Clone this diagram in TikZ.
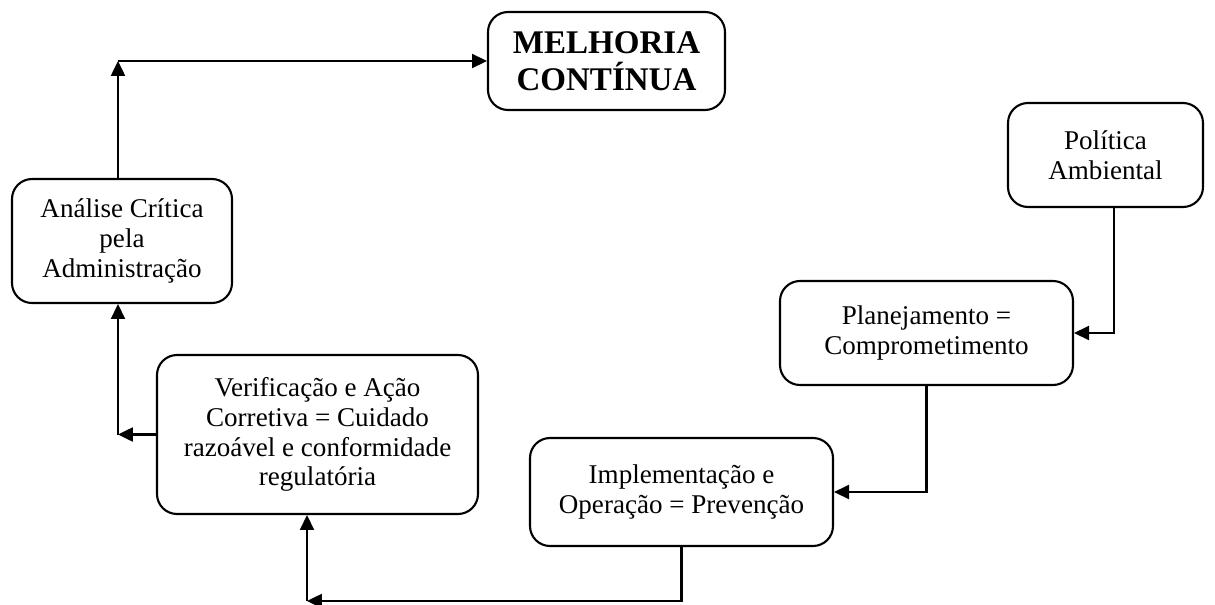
\documentclass[tikz,border=0pt]{standalone}
\usepackage{fontspec}
\setmainfont{Liberation Serif}
\usepackage{tikz}
\usetikzlibrary{arrows.meta,positioning,calc}

\begin{document}
\begin{tikzpicture}[
        font=\fontsize{15.4pt}{17pt}\selectfont,
        stage/.style={
            draw, rounded corners=0.4cm, line width=1.2pt,
            align=center, inner sep=0pt
        },
        flow/.style={-{Triangle[length=8.5pt,width=8pt]}, line width=1.2pt}
    ]
    \useasboundingbox (0,0) rectangle (24.3,12.08);

    % Stages
    \node[stage, minimum width=4.74cm, minimum height=1.96cm,
          font=\fontsize{18.8pt}{21pt}\selectfont\bfseries] (mel) at (12.13,10.86)
        {MELHORIA\\CONTÍNUA};
    \node[stage, minimum width=3.9cm, minimum height=2.08cm] (pol) at (22.11,8.98)
        {Política\\Ambiental};
    \node[stage, minimum width=5.86cm, minimum height=2.08cm] (pla) at (18.53,5.42)
        {Planejamento =\\Comprometimento};
    \node[stage, minimum width=6.06cm, minimum height=2.16cm] (imp) at (13.63,2.24)
        {Implementação e\\Operação = Prevenção};
    \node[stage, minimum width=6.42cm, minimum height=3.18cm] (ver) at (6.35,3.39)
        {Verificação e Ação\\Corretiva = Cuidado\\razoável e conformidade\\regulatória};
    \node[stage, minimum width=4.4cm, minimum height=2.48cm] (ana) at (2.44,7.26)
        {Análise Crítica\\pela\\Administração};

    % Corners
    \coordinate (low) at (6.14,0.06);
    \coordinate (vl) at ([xshift=-0.08cm]ver.west -| ana.south);
    \coordinate (al) at ([xshift=-0.08cm]ana.north |- mel.west);

    % Cycle
    \draw[flow] ([xshift=0.17cm]pol.south) |- (pla.east);
    \draw[flow] (pla.south) |- (imp.east);
    \draw[flow] (imp.south) |- (low);
    \draw[flow] (low) -- (low |- ver.south);
    \draw[flow] (ver.west) -- (vl);
    \draw[flow] (vl) -- (vl |- ana.south);
    \draw[flow] ([xshift=-0.08cm]ana.north) -- (al);
    \draw[flow] (al) -- (mel.west);

\end{tikzpicture}
\end{document}
